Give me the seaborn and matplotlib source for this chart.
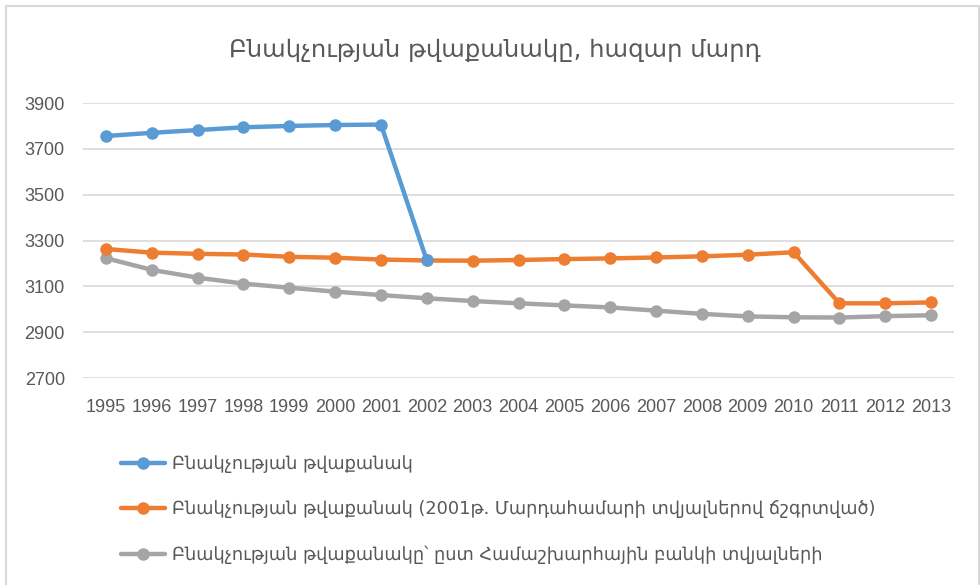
import pandas as pd
import matplotlib
matplotlib.use("Agg")
import matplotlib.pyplot as plt
from matplotlib.lines import Line2D
from matplotlib.patches import Rectangle
import seaborn as sns

# ── Data (thousand people) ────────────────────────────────────
years = list(range(1995, 2014))

pop_official = [3756, 3770, 3782, 3794, 3800, 3804, 3806, 3213]
pop_census = [3263, 3247, 3242, 3239, 3229, 3225, 3217, 3213, 3212, 3215,
              3219, 3222, 3226, 3231, 3238, 3249, 3026, 3026, 3030]
pop_worldbank = [3223, 3172, 3138, 3112, 3094, 3077, 3062, 3048, 3036, 3026,
                 3017, 3008, 2994, 2980, 2969, 2965, 2964, 2970, 2974]

labels = [
    "Բնակչության թվաքանակ",
    "Բնակչության թվաքանակ (2001թ. Մարդահամարի տվյալներով ճշգրտված)",
    "Բնակչության թվաքանակը՝ ըստ Համաշխարհային բանկի տվյալների",
]
title = "Բնակչության թվաքանակը, հազար մարդ"
colors = ["#5B9BD5", "#ED7D31", "#A5A5A5"]

# ── Style ─────────────────────────────────────────────────────
sns.set_style("white")
plt.rcParams["font.family"] = ["Liberation Sans", "DejaVu Sans"]
TEXT = "#595959"

fig = plt.figure(figsize=(9.8, 5.85), dpi=100)
ax = fig.add_axes([0.0847, 0.3538, 0.8888, 0.4701])

# outer chart frame
fig.patches.append(Rectangle((6 / 980, -0.05), 973 / 980, 1.05 - 6 / 585,
                             transform=fig.transFigure, fill=False,
                             edgecolor="#D9D9D9", linewidth=1.5))

# draw grey first so orange / blue sit on top
series = [pop_worldbank, pop_census, pop_official]
order = [2, 1, 0]
for idx, vals in zip(order, series):
    sns.lineplot(x=years[:len(vals)], y=vals, ax=ax, color=colors[idx],
                 linewidth=3.2, marker="o", markersize=9,
                 markeredgewidth=0)

ax.set_xlim(1994.5, 2013.5)
ax.set_ylim(2700, 3900)
ax.set_xticks(years)
ax.set_xticklabels([str(y) for y in years])
ax.set_yticks(range(2700, 3901, 200))
ax.grid(axis="y", color="#D9D9D9", linewidth=1.2)
ax.set_axisbelow(True)
for s in ax.spines.values():
    s.set_visible(False)
ax.tick_params(axis="both", length=0, labelsize=13, colors=TEXT)
ax.tick_params(axis="y", pad=13)
ax.tick_params(axis="x", pad=15)
ax.set_xlabel("")
ax.set_ylabel("")

fig.text(0.505, 1 - 50 / 585, title, ha="center", va="center",
         fontsize=17.5, color=TEXT, family=["DejaVu Sans"])

handles = [Line2D([0], [0], color=c, linewidth=3.2, marker="o",
                  markersize=9, markeredgewidth=0) for c in colors]
fig.legend(handles, labels, loc="upper left",
           bbox_to_anchor=(112 / 980, 1 - 446 / 585), frameon=False,
           labelcolor=TEXT, handlelength=2.5,
           handletextpad=0.4, labelspacing=1.55, borderpad=0,
           prop={"family": ["DejaVu Sans"], "size": 12.8})

plt.savefig("out.png", dpi=100)
